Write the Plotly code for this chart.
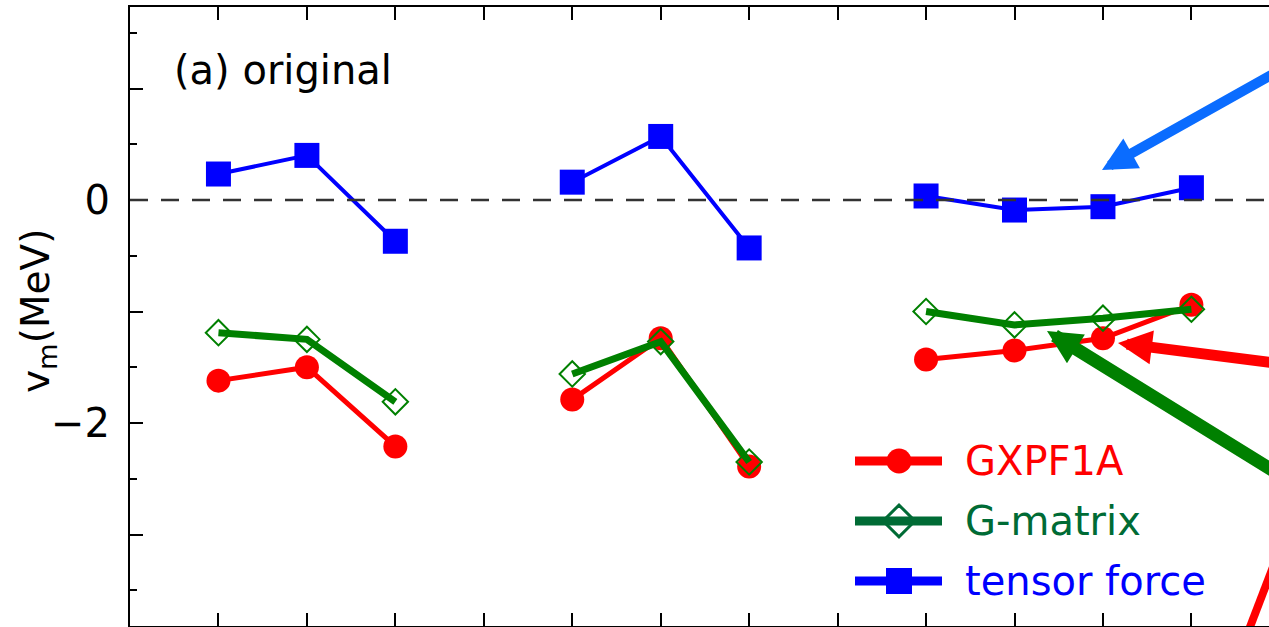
import plotly.graph_objects as go

# Orbit-pair index along the x axis (None splits the three groups)
x_index = [1, 2, 3, None, 5, 6, 7, None, 9, 10, 11, 12]

# Monopole matrix elements v_m (MeV)
gxpf1a = [-1.62, -1.50, -2.21, None, -1.79, -1.24, -2.39, None, -1.43, -1.35, -1.24, -0.94]
g_matrix = [-1.19, -1.25, -1.81, None, -1.56, -1.27, -2.35, None, -1.00, -1.12, -1.06, -0.98]
tensor = [0.233, 0.40, -0.37, None, 0.16, 0.57, -0.43, None, 0.036, -0.09, -0.06, 0.11]

series_names = ["GXPF1A", "G-matrix", "tensor force"]
y_tick_vals = [-3, -2, -1, 0, 1]
y_tick_text = ["", "\u22122", "", "0", ""]
y_minor_vals = [-3.5, -2.5, -1.5, -0.5, 0.5, 1.5]

FONT = "DejaVu Sans"
RED = "#ff0000"
GREEN = "#008000"
GREEN_LEG = "#006b35"
BLUE = "#0000ff"
ARROW_BLUE = "#0a6cff"

W, H = 1269, 627
ML, MT, MB = 130, 7, 1

fig = go.Figure()

fig.add_trace(go.Scatter(
    x=x_index, y=gxpf1a, mode="lines+markers", name=series_names[0],
    line=dict(color=RED, width=5),
    marker=dict(symbol="circle", size=24, color=RED),
    showlegend=False,
))
fig.add_trace(go.Scatter(
    x=x_index, y=g_matrix, mode="lines+markers", name=series_names[1],
    line=dict(color=GREEN, width=7),
    marker=dict(symbol="diamond-open", size=19.5, color=GREEN, line=dict(width=2, color=GREEN)),
    showlegend=False,
))
fig.add_trace(go.Scatter(
    x=x_index, y=tensor, mode="lines+markers", name=series_names[2],
    line=dict(color=BLUE, width=4),
    marker=dict(symbol="square", size=25, color=BLUE),
    showlegend=False,
))

# Key drawn on a pixel-scaled overlay so the sample lines can be long
legend_rows = [
    (series_names[0], 461, RED, RED, "circle", 25, 0),
    (series_names[1], 521, GREEN_LEG, GREEN_LEG, "diamond-open", 24.5, 3),
    (series_names[2], 581, BLUE, BLUE, "square", 26, 0),
]
for name, ry, lc, tc, sym, msz, mlw in legend_rows:
    fig.add_trace(go.Scatter(
        x=[855, 942], y=[ry, ry], xaxis="x2", yaxis="y2", mode="lines",
        line=dict(color=lc, width=9), showlegend=False, hoverinfo="skip",
    ))
    fig.add_trace(go.Scatter(
        x=[899], y=[ry], xaxis="x2", yaxis="y2", mode="markers",
        marker=dict(symbol=sym, size=msz, color=lc,
                    line=dict(width=mlw, color=lc)),
        showlegend=False, hoverinfo="skip",
    ))
    fig.add_annotation(
        x=963, y=ry, xref="x2", yref="y2", text=name, showarrow=False,
        xanchor="left", yanchor="middle",
        font=dict(family=FONT, size=40, color=tc),
    )

# Pointer arrows coming in from the right
arrows = [
    # tip (px), tail (px), colour, shaft width
    ((1102, 170), (1369, 20), ARROW_BLUE, 10),
    ((1118, 343), (1369, 375), RED, 11),
    ((1047, 331), (1369, 530), GREEN, 13),
]
for (tx, ty), (sx, sy), col, wd in arrows:
    fig.add_annotation(
        x=tx, y=ty, ax=sx, ay=sy, xref="x2", yref="y2", axref="x2", ayref="y2",
        text="", showarrow=True, arrowhead=2, arrowsize=34.0 / (5 * wd),
        arrowwidth=wd, arrowcolor=col, standoff=0, startstandoff=0,
    )

# Part of a red pointer leaving toward the panel below
fig.add_shape(type="line", xref="x2", yref="y2", x0=1245, y0=640, x1=1291, y1=520,
              line=dict(color=RED, width=8))

# Zero reference line
fig.add_shape(type="line", xref="paper", yref="y", x0=0, x1=1, y0=0, y1=0,
              line=dict(color="#333333", width=2.5, dash="18px,13px"), layer="above")

fig.add_annotation(
    x=172, y=70, xref="x2", yref="y2", text="(a) original", showarrow=False,
    xanchor="left", yanchor="middle", font=dict(family=FONT, size=40, color="black"),
)

# Vertical axis title
fig.add_annotation(
    x=(38 - ML) / (W - ML), y=311, xref="paper", yref="y2",
    text="v<sub>m</sub>(MeV)", textangle=-90, showarrow=False,
    xanchor="center", yanchor="middle",
    font=dict(family=FONT, size=39, color="black"),
)

px_per_x = 88.45
px_per_y = 111.5
x_max = (W - ML) / px_per_x
y_top = (200 - MT) / px_per_y
y_bot = (200 - (H - MB)) / px_per_y

fig.update_layout(
    width=W, height=H, autosize=False,
    margin=dict(l=ML, r=0, t=MT, b=MB, pad=0),
    paper_bgcolor="white", plot_bgcolor="white",
    font=dict(family=FONT, size=39, color="black"),
    showlegend=False,
    xaxis=dict(
        range=[0, x_max], tickvals=list(range(1, 13)), ticks="inside", ticklen=13,
        tickwidth=2, tickcolor="black", showline=True, linewidth=2, linecolor="black",
        mirror="ticks", showticklabels=False, showgrid=False, zeroline=False,
    ),
    yaxis=dict(
        range=[y_bot, y_top], tickvals=y_tick_vals, ticktext=y_tick_text,
        ticks="inside", ticklen=13, tickwidth=2, tickcolor="black",
        minor=dict(tickvals=y_minor_vals, ticks="inside", ticklen=7, tickwidth=2,
                   tickcolor="black", showgrid=False),
        showline=True, linewidth=2, linecolor="black", mirror=False,
        showgrid=False, zeroline=False,
        tickfont=dict(family=FONT, size=40, color="black"),
        ticklabelstandoff=10,
    ),
    xaxis2=dict(range=[ML, W], overlaying="x", visible=False, fixedrange=True),
    yaxis2=dict(range=[H - MB, MT], overlaying="y", visible=False, fixedrange=True),
)

fig.write_html("out.html")
